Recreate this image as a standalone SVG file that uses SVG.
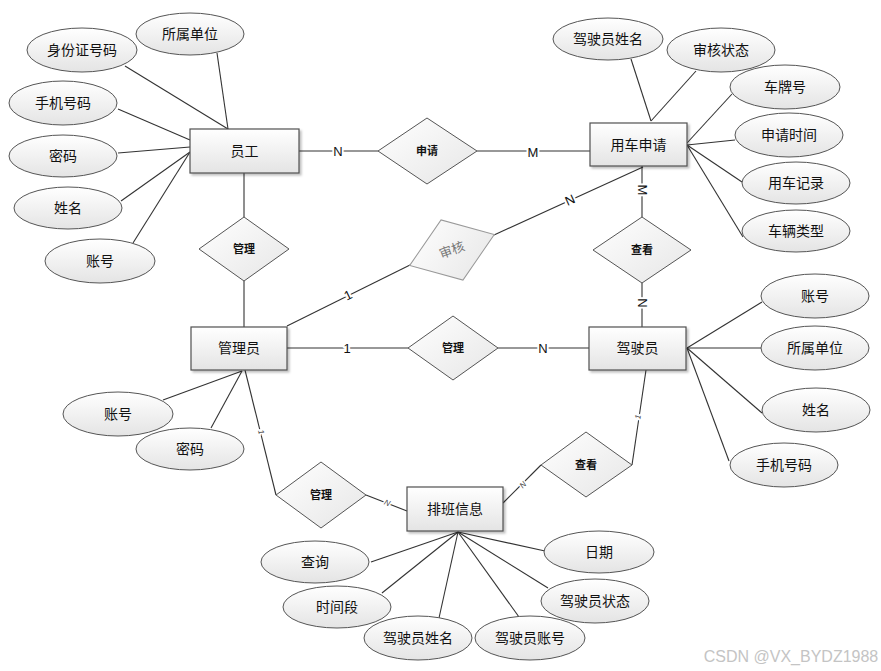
<svg xmlns="http://www.w3.org/2000/svg" width="881" height="671" viewBox="0 0 881 671">
<defs>
<linearGradient id="g" x1="0" y1="0" x2="0" y2="1">
<stop offset="0" stop-color="#ffffff"/>
<stop offset="1" stop-color="#e4e4e4"/>
</linearGradient>
<linearGradient id="gr" x1="0" y1="0" x2="1" y2="1">
<stop offset="0" stop-color="#ffffff"/>
<stop offset="1" stop-color="#e6e6e6"/>
</linearGradient>
<filter id="sh" x="-10%" y="-10%" width="130%" height="140%">
<feDropShadow dx="2" dy="2" stdDeviation="1.2" flood-color="#000" flood-opacity="0.25"/>
</filter>
</defs>
<style>
text{font-family:"Liberation Sans","Noto Sans CJK SC",sans-serif;fill:#111;text-anchor:middle;dominant-baseline:central}
.ent rect{fill:url(#g);stroke:#505050;stroke-width:1.2;filter:url(#sh)}
.ent text{font-size:14px}
.att ellipse{fill:url(#g);stroke:#555;stroke-width:1}
.att text{font-size:14px}
.rel polygon{fill:url(#gr);stroke:#555;stroke-width:1}
.rel text{font-size:11px;font-weight:bold}
.conn line{stroke:#333;stroke-width:1.1}
.lbl{font-size:13px;stroke:#fff;stroke-width:4;paint-order:stroke;stroke-linejoin:round}
.lbs{font-size:8px;font-style:italic;stroke:#fff;stroke-width:3;paint-order:stroke;fill:#444}
</style>
<rect width="881" height="671" fill="#fff"/>

<g id="connectors" class="conn">
<line x1="217" y1="53" x2="228" y2="129"/>
<line x1="125" y1="66" x2="228" y2="129"/>
<line x1="118" y1="109" x2="190" y2="140"/>
<line x1="118" y1="153" x2="190" y2="147"/>
<line x1="121" y1="201" x2="190" y2="152"/>
<line x1="133" y1="243" x2="190" y2="152"/>
<line x1="631" y1="59" x2="651" y2="121"/>
<line x1="696" y1="71" x2="651" y2="121"/>
<line x1="732" y1="94" x2="687" y2="143"/>
<line x1="735" y1="140" x2="687" y2="145"/>
<line x1="742" y1="182" x2="687" y2="145"/>
<line x1="743" y1="237" x2="687" y2="145"/>
<line x1="762" y1="302" x2="687" y2="348"/>
<line x1="761" y1="348" x2="687" y2="348"/>
<line x1="762" y1="413" x2="687" y2="348"/>
<line x1="729" y1="461" x2="687" y2="348"/>
<line x1="163" y1="400" x2="242" y2="371"/>
<line x1="211" y1="428" x2="242" y2="371"/>
<line x1="371" y1="562" x2="458" y2="532"/>
<line x1="382" y1="593" x2="458" y2="532"/>
<line x1="439" y1="618" x2="458" y2="532"/>
<line x1="519" y1="617" x2="458" y2="532"/>
<line x1="548" y1="588" x2="458" y2="532"/>
<line x1="545" y1="551" x2="458" y2="532"/>
<line x1="299" y1="151" x2="378" y2="151"/>
<line x1="477" y1="151" x2="590" y2="151"/>
<line x1="244" y1="173" x2="244" y2="217"/>
<line x1="244" y1="281" x2="244" y2="327"/>
<line x1="287" y1="326" x2="410" y2="265"/>
<line x1="494" y1="235" x2="643" y2="167"/>
<line x1="642" y1="166" x2="642" y2="217"/>
<line x1="642" y1="283" x2="642" y2="327"/>
<line x1="287" y1="348" x2="408" y2="348"/>
<line x1="498" y1="348" x2="589" y2="348"/>
<line x1="245" y1="370" x2="276" y2="495"/>
<line x1="366" y1="495" x2="407" y2="511"/>
<line x1="646" y1="370" x2="632" y2="465"/>
<line x1="541" y1="465" x2="503" y2="503"/>
</g>

<g id="labels">
<text class="lbl" x="338" y="151">N</text>
<text class="lbl" x="533" y="152">M</text>
<text class="lbl" x="348" y="295" transform="rotate(-26 348 295)">1</text>
<text class="lbl" x="570" y="200" transform="rotate(-24 570 200)">N</text>
<text class="lbl" x="642" y="190" transform="rotate(90 642 190)">M</text>
<text class="lbl" x="642" y="303" transform="rotate(90 642 303)">N</text>
<text class="lbl" x="347" y="348">1</text>
<text class="lbl" x="543" y="348">N</text>
<text class="lbs" x="261" y="432" transform="rotate(76 261 432)">1</text>
<text class="lbs" x="387" y="503" transform="rotate(22 387 503)">N</text>
<text class="lbs" x="638" y="417" transform="rotate(-82 638 417)">1</text>
<text class="lbs" x="523" y="485" transform="rotate(-45 523 485)">N</text>
</g>

<g id="e-yuangong" class="ent"><rect x="190" y="129" width="109" height="44"/><text x="244.5" y="151">员工</text></g>
<g id="e-yongche" class="ent"><rect x="590" y="123" width="97" height="43"/><text x="638.5" y="145">用车申请</text></g>
<g id="e-guanliyuan" class="ent"><rect x="191" y="327" width="96" height="43"/><text x="239" y="348">管理员</text></g>
<g id="e-jiashiyuan" class="ent"><rect x="589" y="327" width="97" height="43"/><text x="637.5" y="348">驾驶员</text></g>
<g id="e-paiban" class="ent"><rect x="407" y="487" width="96" height="44"/><text x="455" y="509">排班信息</text></g>

<g id="r-shenqing" class="rel"><polygon points="378,151 427,118 477,151 427,184"/><text x="427" y="151">申请</text></g>
<g id="r-guanli1" class="rel"><polygon points="199,249 244,217 289,249 244,281"/><text x="244" y="249">管理</text></g>
<g id="r-shenhe" class="rel"><polygon points="-45,0 0,-32 45,0 0,32" transform="translate(452 250) rotate(-20)" style="stroke:#999"/><text x="452" y="250" transform="rotate(-20 452 250)" style="font-weight:normal;font-size:13px;fill:#777">审核</text></g>
<g id="r-chakan1" class="rel"><polygon points="593,250 642,217 691,250 642,283"/><text x="642" y="250">查看</text></g>
<g id="r-guanli2" class="rel"><polygon points="408,348 453,316 498,348 453,380"/><text x="453" y="348">管理</text></g>
<g id="r-guanli3" class="rel"><polygon points="276,495 321,462 366,495 321,528"/><text x="321" y="495">管理</text></g>
<g id="r-chakan2" class="rel"><polygon points="541,465 586,432 632,465 586,497"/><text x="586" y="465">查看</text></g>

<g id="a-suoshu1" class="att"><ellipse cx="190" cy="34" rx="54" ry="21"/><text x="190" y="34">所属单位</text></g>
<g id="a-shenfen" class="att"><ellipse cx="82" cy="50" rx="55" ry="22"/><text x="82" y="50">身份证号码</text></g>
<g id="a-shouji1" class="att"><ellipse cx="63" cy="103" rx="54" ry="22"/><text x="63" y="103">手机号码</text></g>
<g id="a-mima1" class="att"><ellipse cx="63" cy="156" rx="54" ry="21"/><text x="63" y="156">密码</text></g>
<g id="a-xingming1" class="att"><ellipse cx="68" cy="208" rx="54" ry="21"/><text x="68" y="208">姓名</text></g>
<g id="a-zhanghao1" class="att"><ellipse cx="100" cy="261" rx="55" ry="22"/><text x="100" y="261">账号</text></g>

<g id="a-jsyxm1" class="att"><ellipse cx="608" cy="39" rx="55" ry="21"/><text x="608" y="39">驾驶员姓名</text></g>
<g id="a-shzt" class="att"><ellipse cx="721" cy="50" rx="54" ry="22"/><text x="721" y="50">审核状态</text></g>
<g id="a-cph" class="att"><ellipse cx="785" cy="87" rx="55" ry="22"/><text x="785" y="87">车牌号</text></g>
<g id="a-sqsj" class="att"><ellipse cx="789" cy="135" rx="54" ry="22"/><text x="789" y="135">申请时间</text></g>
<g id="a-ycjl" class="att"><ellipse cx="796" cy="183" rx="54" ry="21"/><text x="796" y="183">用车记录</text></g>
<g id="a-cllx" class="att"><ellipse cx="796" cy="231" rx="54" ry="21"/><text x="796" y="231">车辆类型</text></g>

<g id="a-zhanghao2" class="att"><ellipse cx="815" cy="296" rx="54" ry="22"/><text x="815" y="296">账号</text></g>
<g id="a-suoshu2" class="att"><ellipse cx="815" cy="348" rx="54" ry="22"/><text x="815" y="348">所属单位</text></g>
<g id="a-xingming2" class="att"><ellipse cx="816" cy="410" rx="54" ry="22"/><text x="816" y="410">姓名</text></g>
<g id="a-shouji2" class="att"><ellipse cx="784" cy="465" rx="54" ry="22"/><text x="784" y="465">手机号码</text></g>

<g id="a-zhanghao3" class="att"><ellipse cx="118" cy="414" rx="55" ry="22"/><text x="118" y="414">账号</text></g>
<g id="a-mima2" class="att"><ellipse cx="190" cy="449" rx="54" ry="21"/><text x="190" y="449">密码</text></g>

<g id="a-chaxun" class="att"><ellipse cx="315" cy="562" rx="54" ry="21"/><text x="315" y="562">查询</text></g>
<g id="a-sjd" class="att"><ellipse cx="337" cy="607" rx="54" ry="21"/><text x="337" y="607">时间段</text></g>
<g id="a-jsyxm2" class="att"><ellipse cx="418" cy="638" rx="54" ry="22"/><text x="418" y="638">驾驶员姓名</text></g>
<g id="a-jsyzh" class="att"><ellipse cx="530" cy="638" rx="55" ry="22"/><text x="530" y="638">驾驶员账号</text></g>
<g id="a-jsyzt" class="att"><ellipse cx="595" cy="601" rx="54" ry="22"/><text x="595" y="601">驾驶员状态</text></g>
<g id="a-riqi" class="att"><ellipse cx="599" cy="552" rx="55" ry="21"/><text x="599" y="552">日期</text></g>

<text x="791" y="656" style="font-size:16px;fill:#c4c4c4">CSDN @VX_BYDZ1988</text>
</svg>
